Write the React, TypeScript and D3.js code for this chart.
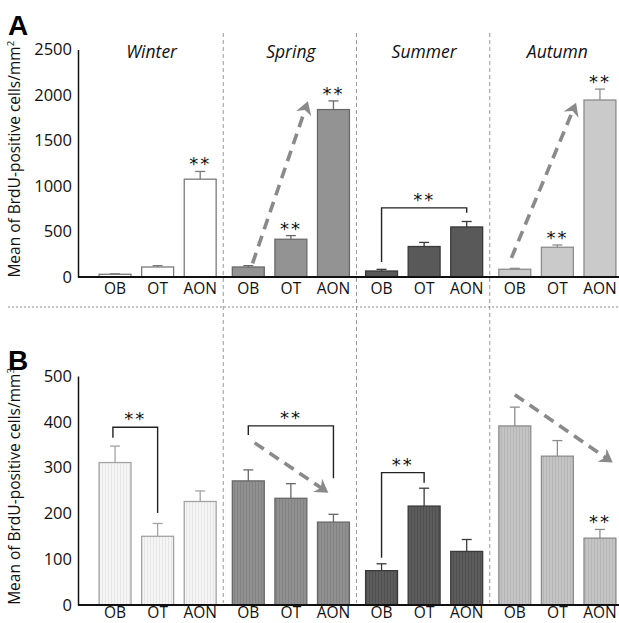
import React, { useEffect, useRef } from "react";
import * as d3 from "d3";

const seasons = ["Winter", "Spring", "Summer", "Autumn"];
const regions = ["OB", "OT", "AON"];

// panel A: cells / mm2 (mean, sem), order = season x region
const areaMean = [30, 110, 1075, 110, 415, 1840, 66, 335, 550, 85, 327, 1945];
const areaSem = [5, 15, 85, 15, 40, 95, 18, 45, 60, 10, 25, 120];
const areaTicks = [0, 500, 1000, 1500, 2000, 2500];

// panel B: cells / mm3
const volumeMean = [311, 150, 226, 271, 233, 181, 75, 216, 117, 391, 325, 146];
const volumeSem = [36, 28, 23, 24, 32, 17, 15, 39, 26, 41, 34, 19];
const volumeTicks = [0, 100, 200, 300, 400, 500];

// annotations: bar index with "**"
const areaStars = [2, 4, 5, 10, 11];
const volumeStars = [11];
// brackets: [season, fromPos, toPos, leftEnd, top, rightEnd]
const areaBrackets = [[2, 0, 2, 165, 760, 705]];
const volumeBrackets = [
  [0, -0.05, 1, 365, 388, 201],
  [1, 0, 2, 371, 391, 277],
  [2, 0, 1, 103, 289, 267],
];
// dashed arrows: [season, fromPos, fromValue, toPos, toValue]
const areaArrows = [
  [1, 0.1, 150, 1.4, 1930],
  [3, -0.08, 210, 1.44, 1916],
];
const volumeArrows = [
  [1, 0.15, 354, 1.88, 245],
  [3, 0, 459, 2.3, 311],
];

const W = 619;
const H = 623;
const FONT = "'Open Sans', 'DejaVu Sans', sans-serif";

const styleA = [
  { fill: "#ffffff", stroke: "#7a7a7a" },
  { fill: "#939393", stroke: "#696969" },
  { fill: "#595959", stroke: "#3a3a3a" },
  { fill: "#cacaca", stroke: "#8c8c8c" },
];
const styleB = [
  { fill: "#f5f5f5", stripe: "#e6e6e6", stroke: "#a3a3a3" },
  { fill: "#909090", stripe: "#838383", stroke: "#686868" },
  { fill: "#5c5c5c", stripe: "#505050", stroke: "#3a3a3a" },
  { fill: "#c4c4c4", stripe: "#b6b6b6", stroke: "#8c8c8c" },
];

const xGroup = d3.scaleBand().domain(seasons).range([91, 624]);
const xBar = d3
  .scaleBand()
  .domain(regions)
  .range([0, xGroup.bandwidth()])
  .paddingInner(0.25)
  .paddingOuter(0.19);

const xAt = (g, p) =>
  xGroup(seasons[g]) + xBar("OB") + xBar.bandwidth() / 2 + p * xBar.step();

const yA = d3.scaleLinear().domain([0, 2500]).range([277, 49.5]);
const yB = d3.scaleLinear().domain([0, 500]).range([605, 376]);

const Panel = ({ y, mean, sem, ticks, stars, brackets, arrows, styles, patterned, title, unit, labelGap }) => {
  const axisRef = useRef();

  useEffect(() => {
    const g = d3.select(axisRef.current);
    g.call(
      d3.axisLeft(y).tickValues(ticks).tickFormat(d3.format("d")).tickSize(0).tickPadding(6)
    );
    g.attr("font-family", FONT).attr("font-size", 16.5);
    g.selectAll("text").attr("fill", "#111");
    g.select(".domain").attr("stroke", "#111").attr("stroke-width", 1.5);
  }, [y, ticks]);

  const base = y(0);
  const titleY = (y.range()[0] + y.range()[1]) / 2;

  return (
    <g>
      <g ref={axisRef} transform="translate(78,0)" />
      <text
        transform={`translate(20,${titleY - 4}) rotate(-90)`}
        textAnchor="middle"
        fontFamily={FONT}
        fontSize={15.5}
        fill="#111"
      >
        Mean of BrdU-positive cells/mm
        <tspan dy={-6} fontSize={9.5}>
          {unit}
        </tspan>
      </text>

      {mean.map((v, i) => {
        const g = Math.floor(i / 3);
        const region = regions[i % 3];
        const x0 = xGroup(seasons[g]) + xBar(region);
        const bw = xBar.bandwidth();
        const st = styles[g];
        const top = y(v);
        const errTop = y(v + sem[i]);
        const cx = x0 + bw / 2;
        return (
          <g key={i}>
            <line x1={cx} x2={cx} y1={top} y2={errTop} stroke={st.stroke} strokeWidth={1.3} />
            <line x1={cx - 5} x2={cx + 5} y1={errTop} y2={errTop} stroke={st.stroke} strokeWidth={1.3} />
            <rect
              x={x0}
              y={top}
              width={bw}
              height={base - top}
              fill={patterned ? `url(#stripe${g})` : st.fill}
              stroke={st.stroke}
              strokeWidth={1.3}
            />
          </g>
        );
      })}

      <line x1={78} x2={W} y1={base} y2={base} stroke="#111" strokeWidth={2.2} />

      {seasons.map((s) =>
        regions.map((r) => (
          <text
            key={s + r}
            x={xGroup(s) + xBar(r) + xBar.bandwidth() / 2}
            y={base + labelGap}
            textAnchor="middle"
            fontFamily={FONT}
            fontSize={15.5}
            fill="#111"
          >
            {r}
          </text>
        ))
      )}

      {title &&
        seasons.map((s) => (
          <text
            key={s}
            x={xGroup(s) + xGroup.bandwidth() / 2 - (s === "Winter" ? 6 : 0)}
            y={58}
            textAnchor="middle"
            fontFamily={FONT}
            fontStyle="italic"
            fontSize={17.5}
            fill="#111"
          >
            {s}
          </text>
        ))}

      {stars.map((i) => {
        const g = Math.floor(i / 3);
        const cx = xAt(g, i % 3);
        return (
          <text
            key={"s" + i}
            x={cx}
            y={y(mean[i] + sem[i]) - 1}
            textAnchor="middle"
            fontFamily="'DejaVu Sans', sans-serif"
            fontSize={18}
            letterSpacing={2}
            fill="#111"
          >
            **
          </text>
        );
      })}

      {brackets.map(([g, p0, p1, vl, vt, vr], k) => {
        const xl = xAt(g, p0);
        const xr = xAt(g, p1);
        return (
          <g key={"b" + k}>
            <path
              d={`M${xl},${y(vl)}V${y(vt)}H${xr}V${y(vr)}`}
              fill="none"
              stroke="#222"
              strokeWidth={1.4}
            />
            <text
              x={(xl + xr) / 2}
              y={y(vt) - 2}
              textAnchor="middle"
              fontFamily="'DejaVu Sans', sans-serif"
              fontSize={18}
              letterSpacing={2}
              fill="#111"
            >
              **
            </text>
          </g>
        );
      })}

      {arrows.map(([g, p0, v0, p1, v1], k) => {
        const x0 = xAt(g, p0);
        const y0 = y(v0);
        const x1 = xAt(g, p1);
        const y1 = y(v1);
        const ang = Math.atan2(y1 - y0, x1 - x0);
        const len = Math.hypot(x1 - x0, y1 - y0);
        return (
          <g key={"a" + k} transform={`translate(${x0},${y0}) rotate(${(ang * 180) / Math.PI})`}>
            <line x1={0} y1={0} x2={len - 4} y2={0} stroke="#8a8a8a" strokeWidth={3.6} strokeDasharray="11,7" />
            <path d={`M${len - 13},-8 L${len},0 L${len - 13},8 L${len - 9},0 Z`} fill="#8a8a8a" />
          </g>
        );
      })}
    </g>
  );
};

export default function App() {
  const dividers = seasons.slice(1).map((s) => xGroup(s) - 1);
  return (
    <svg
      width={W}
      height={H}
      style={{ position: "absolute", left: 0, top: 0, background: "#fff" }}
    >
      <defs>
        {styleB.map((st, g) => (
          <pattern key={g} id={`stripe${g}`} width={3} height={4} patternUnits="userSpaceOnUse">
            <rect width={3} height={4} fill={st.fill} />
            <rect width={1} height={4} fill={st.stripe} />
          </pattern>
        ))}
      </defs>

      {dividers.map((x, k) => (
        <line key={k} x1={x} x2={x} y1={33} y2={603} stroke="#9a9a9a" strokeWidth={1} strokeDasharray="4,3" />
      ))}
      <line x1={8} x2={W} y1={307} y2={307} stroke="#8a8a8a" strokeWidth={1} strokeDasharray="2,2" />

      <text x={8} y={35} fontFamily="'Liberation Sans', Arial, sans-serif" fontWeight="bold" fontSize={28} fill="#000">
        A
      </text>
      <text x={8} y={370} fontFamily="'Liberation Sans', Arial, sans-serif" fontWeight="bold" fontSize={28} fill="#000">
        B
      </text>

      <Panel
        y={yA}
        mean={areaMean}
        sem={areaSem}
        ticks={areaTicks}
        stars={areaStars}
        brackets={areaBrackets}
        arrows={areaArrows}
        styles={styleA}
        patterned={false}
        title
        unit="2"
        labelGap={17}
      />
      <Panel
        y={yB}
        mean={volumeMean}
        sem={volumeSem}
        ticks={volumeTicks}
        stars={volumeStars}
        brackets={volumeBrackets}
        arrows={volumeArrows}
        styles={styleB}
        patterned
        title={false}
        unit="3"
        labelGap={13}
      />
    </svg>
  );
}
